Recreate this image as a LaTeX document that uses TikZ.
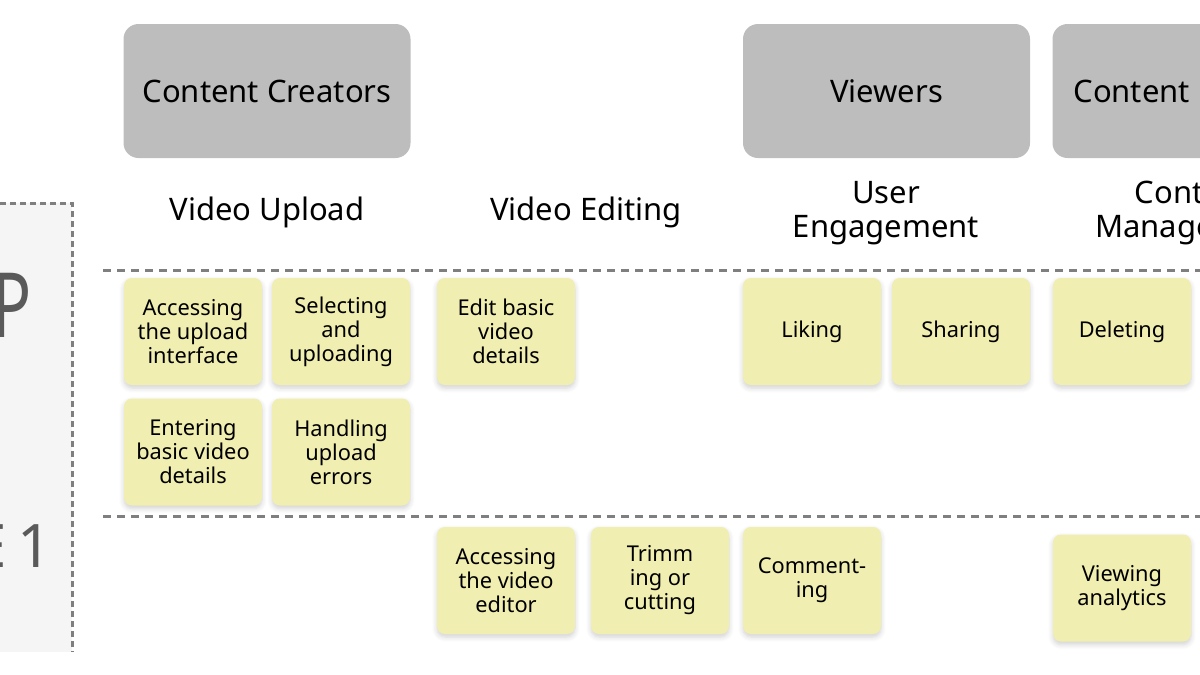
\documentclass[tikz,border=0pt]{standalone}
\usepackage{fontspec}
\setmainfont{Noto Sans}
\usetikzlibrary{shadows,shadows.blur}
\definecolor{hdr}{HTML}{BDBDBD}
\definecolor{note}{HTML}{F0EEB0}
\definecolor{dashc}{HTML}{7F7F7F}
\definecolor{panel}{HTML}{F5F5F5}
\definecolor{bigc}{HTML}{5A5A5A}
\begin{document}
\begin{tikzpicture}[x=0.5pt,y=-0.5pt,
 header/.style={fill=hdr, rounded corners=7.5pt, minimum width=143.5pt, minimum height=67pt, font=\fontsize{15.5}{18}\selectfont, inner sep=0pt},
 notebox/.style={fill=note, rounded corners=4pt, minimum width=69pt, minimum height=53.5pt, align=center, font=\fontsize{10.9}{12}\selectfont, inner sep=0pt, blur shadow={shadow xshift=0pt, shadow yshift=-1.5pt, shadow opacity=18, shadow blur radius=2.5pt, shadow blur steps=6}},
 section/.style={align=center, font=\fontsize{15.5}{17}\selectfont, inner sep=0pt},
 sep/.style={draw=dashc, line width=1.5pt, dash pattern=on 4pt off 3pt},
 panelborder/.style={draw=dashc, line width=1.5pt, dash pattern=on 3pt off 2pt}
]
\useasboundingbox (0,0) rectangle (1200,675);
\clip (0,0) rectangle (1200,675);

% left panel
\fill[panel] (-10,203) rectangle (72,652);
\draw[panelborder] (-10,203) -| (72,652);
\node[anchor=east, text=bigc, font=\fontsize{45}{50}\selectfont, inner sep=0pt] (bigP) at (32,305) {\scalebox{0.72}[1]{P}};
\node[anchor=east, text=bigc, font=\fontsize{30}{34}\selectfont, inner sep=0pt] (bigE) at (52,546) {E\,1};

% headers
\node[header] (hcc) at (267,91) {Content Creators};
\node[header] (hv) at (886.5,91) {Viewers};
\node[header] (hcm) at (1196,91) {};
\node[anchor=west, font=\fontsize{15.5}{18}\selectfont, inner sep=0pt] (hcmt) at (1073,91) {Content};

% section titles
\node[section] (sup) at (267,212) {Video Upload};
\node[section] (sed) at (586,212) {Video Editing};
\node[section] (sen) at (886,213) {User\\Engagement};
\node[section] (smg) at (1193,213) {Content\\Management};

% separators
\draw[sep] (103,270) -- (1200,270);
\draw[sep] (103,516) -- (1200,516);

% notes
\node[notebox] (n1) at (193,331.5) {Accessing\\the upload\\interface};
\node[notebox] (n2) at (341,331.5) {Selecting\\and\\uploading};
\node[notebox] (n3) at (506,331.5) {Edit basic\\video\\details};
\node[notebox] (n4) at (812,331.5) {Liking};
\node[notebox] (n5) at (961,331.5) {Sharing};
\node[notebox] (n6) at (1122,331.5) {Deleting};
\node[notebox] (n7) at (193,452) {Entering\\basic video\\details};
\node[notebox] (n8) at (341,452) {Handling\\upload\\errors};
\node[notebox] (n9) at (506,580.5) {Accessing\\the video\\editor};
\node[notebox] (n10) at (660,580.5) {Trimm\\ing or\\cutting};
\node[notebox] (n11) at (812,580.5) {Comment-\\ing};
\node[notebox] (n12) at (1122,588) {Viewing\\analytics};
\end{tikzpicture}
\end{document}
